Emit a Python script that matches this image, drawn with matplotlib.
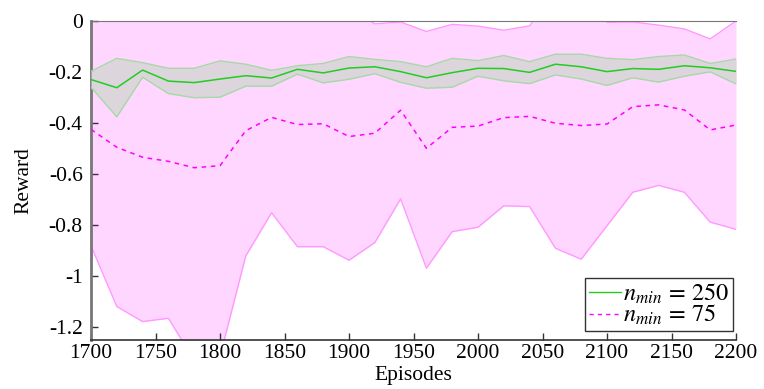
import matplotlib
matplotlib.use("Agg")
import matplotlib.pyplot as plt
from matplotlib.ticker import FixedLocator

episodes = list(range(1700, 2201, 20))

# n_min = 250 (green)
mean_250 = [-0.231, -0.263, -0.194, -0.237, -0.243, -0.229, -0.216, -0.225, -0.191, -0.205,
            -0.186, -0.181, -0.200, -0.224, -0.204, -0.187, -0.188, -0.203, -0.171, -0.181,
            -0.200, -0.188, -0.191, -0.177, -0.185, -0.199]
upper_250 = [-0.199, -0.148, -0.165, -0.187, -0.187, -0.158, -0.171, -0.195, -0.177, -0.168,
             -0.141, -0.152, -0.161, -0.181, -0.148, -0.157, -0.137, -0.161, -0.132, -0.132,
             -0.148, -0.153, -0.141, -0.135, -0.168, -0.151]
lower_250 = [-0.261, -0.377, -0.222, -0.286, -0.302, -0.300, -0.257, -0.257, -0.210, -0.244,
             -0.230, -0.208, -0.242, -0.265, -0.261, -0.218, -0.236, -0.247, -0.213, -0.229,
             -0.254, -0.224, -0.241, -0.218, -0.201, -0.248]

# n_min = 75 (magenta)
mean_75 = [-0.426, -0.496, -0.535, -0.551, -0.576, -0.568, -0.431, -0.379, -0.407, -0.404,
           -0.454, -0.441, -0.351, -0.500, -0.418, -0.413, -0.380, -0.375, -0.402, -0.411,
           -0.405, -0.337, -0.330, -0.350, -0.428, -0.409]
upper_75 = [0.03, 0.12, 0.10, 0.06, 0.08, 0.10, 0.06, 0.09, 0.07, 0.08,
            0.055, -0.013, -0.006, -0.043, -0.015, -0.022, -0.038, -0.021, 0.12, 0.10,
            -0.007, -0.006, -0.018, -0.033, -0.072, -0.002]
lower_75 = [-0.881, -1.119, -1.178, -1.165, -1.330, -1.315, -0.921, -0.752, -0.885, -0.885,
            -0.938, -0.869, -0.698, -0.969, -0.826, -0.809, -0.725, -0.728, -0.891, -0.934,
            -0.803, -0.672, -0.645, -0.672, -0.789, -0.817]

x_ticks = list(range(1700, 2201, 50))
y_ticks = [0, -0.2, -0.4, -0.6, -0.8, -1.0, -1.2]
y_tick_labels = ["0", "-0.2", "-0.4", "-0.6", "-0.8", "-1", "-1.2"]

plt.rcParams['font.family'] = ['Liberation Serif', 'DejaVu Serif']
plt.rcParams['mathtext.fontset'] = 'stix'

fig = plt.figure(figsize=(7.64, 3.89), dpi=100)
ax = fig.add_axes([91/764, 1 - 340/389, (736-91)/764, (340-20.5)/389])

ax.fill_between(episodes, lower_75, upper_75, color='#ffd6ff', lw=0, zorder=1)
ax.plot(episodes, upper_75, color='#ff99ff', lw=1.0, zorder=2)
ax.plot(episodes, lower_75, color='#ff99ff', lw=1.0, zorder=2)

ax.fill_between(episodes, lower_250, upper_250, color='#dcd6dc', lw=0, zorder=3)
ax.plot(episodes, upper_250, color='#a6d9a6', lw=1.0, zorder=4)
ax.plot(episodes, lower_250, color='#a6d9a6', lw=1.0, zorder=4)

ax.plot(episodes, mean_250, color='#22cc22', lw=1.1, zorder=5, label=r'$n_{min} \,=\, 250$')
ax.plot(episodes, mean_75, color='#ff00ff', lw=1.1, ls=(0, (3, 3)), zorder=5, label=r'$n_{min} \,=\, 75$')

ax.set_xlim(1700, 2200)
ax.set_ylim(-1.25, 0)
ax.xaxis.set_major_locator(FixedLocator(x_ticks))
ax.yaxis.set_major_locator(FixedLocator(y_ticks))
ax.set_yticklabels(y_tick_labels)
ax.tick_params(direction='in', length=5, width=1, labelsize=15.5, color='#333333')
ax.tick_params(axis='x', pad=3)
ax.tick_params(axis='y', pad=6)

ax.spines['right'].set_visible(False)
ax.spines['top'].set_linestyle((0, (1, 1)))
ax.spines['top'].set_color('#777777')
ax.spines['top'].set_linewidth(0.8)
ax.spines['left'].set_color('#777777')
ax.spines['left'].set_linewidth(2)
ax.spines['bottom'].set_color('#333333')
ax.spines['bottom'].set_linewidth(1.2)

ax.set_xlabel('Episodes', fontsize=15.5, labelpad=2)
ax.set_ylabel('Reward', fontsize=15.5, labelpad=11)

leg = ax.legend(loc='lower right', fontsize=17.5, handlelength=1.3, handletextpad=0.1,
                borderpad=0.15, labelspacing=-0.1, fancybox=False, framealpha=1,
                borderaxespad=0.0, edgecolor='#333333', bbox_to_anchor=(0.995, 0.028))
leg.get_frame().set_linewidth(1.0)
for h in leg.get_lines():
    h.set_linewidth(1.0)

fig.savefig('out.png', dpi=100)
